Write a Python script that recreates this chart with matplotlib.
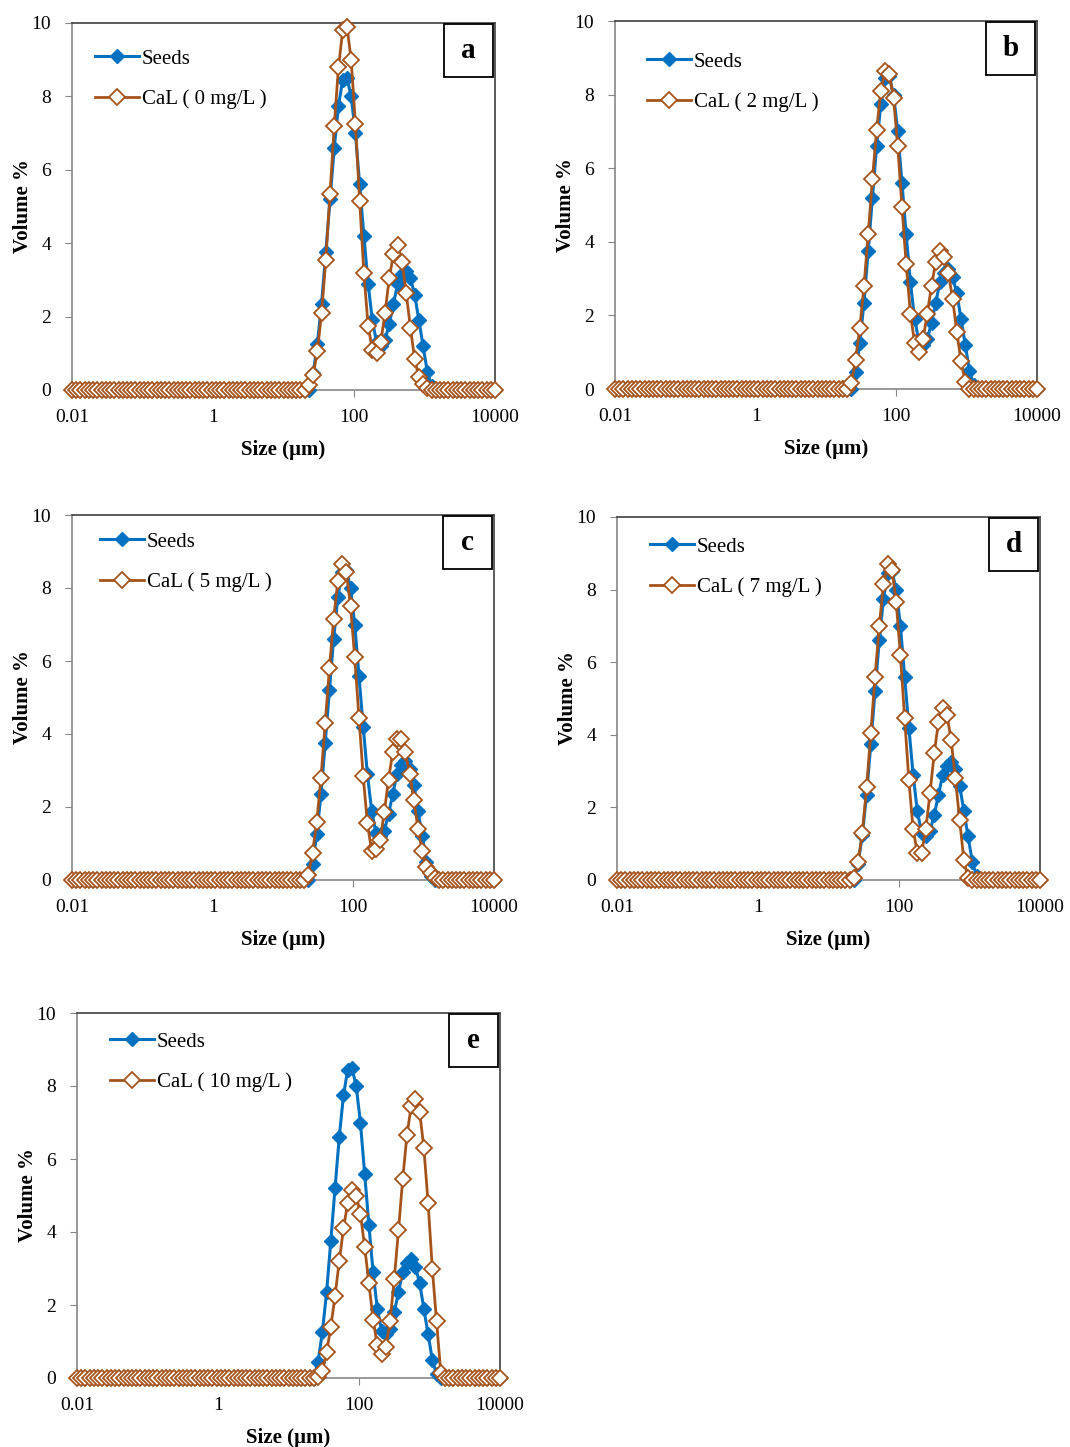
import matplotlib
matplotlib.use("Agg")
import matplotlib.pyplot as plt
from matplotlib.patches import Rectangle
import numpy as np

plt.rcParams["font.family"] = ["Liberation Serif", "DejaVu Serif"]

# Size classes of the analyser (101 log-spaced classes, 0.01 - 10000 um)
SIZES = np.logspace(-2, 4, 101)
TICKS = [0.01, 1, 100, 10000]
TICK_LABELS = ["0.01", "1", "100", "10000"]

# Non-zero part of every distribution: (first class index, values)
SEEDS_START = 57
SEEDS = [0.45, 1.25, 2.35, 3.75, 5.2, 6.6, 7.75, 8.45, 8.5, 8.0, 7.0, 5.6, 4.2, 2.9,
         1.9, 1.3, 1.2, 1.35, 1.8, 2.35, 2.9, 3.15, 3.25, 3.05, 2.6, 1.9, 1.2, 0.5, 0.1]

CAL_0_START = 56
CAL_0 = [0.13, 0.4, 1.05, 2.1, 3.55, 5.35, 7.2, 8.8, 9.8, 9.9, 9.0, 7.25, 5.15, 3.2,
         1.75, 1.1, 1.0, 1.3, 2.1, 3.05, 3.7, 3.95, 3.5, 2.65, 1.7, 0.85, 0.35, 0.15, 0.05]

CAL_2_START = 56
CAL_2 = [0.15, 0.8, 1.65, 2.8, 4.2, 5.7, 7.05, 8.1, 8.65, 8.55, 7.9, 6.6, 4.95, 3.4,
         2.05, 1.25, 1.0, 1.35, 2.05, 2.8, 3.45, 3.75, 3.6, 3.15, 2.45, 1.55, 0.75, 0.2]

CAL_5_START = 56
CAL_5 = [0.14, 0.75, 1.6, 2.8, 4.3, 5.8, 7.15, 8.2, 8.65, 8.45, 7.5, 6.1, 4.45, 2.85,
         1.55, 0.8, 0.85, 1.1, 1.85, 2.75, 3.5, 3.85, 3.85, 3.5, 2.9, 2.2, 1.4, 0.8,
         0.35, 0.2, 0.05]

CAL_7_START = 56
CAL_7 = [0.05, 0.5, 1.3, 2.55, 4.05, 5.6, 7.0, 8.15, 8.7, 8.55, 7.65, 6.2, 4.45, 2.75,
         1.4, 0.75, 0.75, 1.4, 2.4, 3.5, 4.35, 4.75, 4.55, 3.85, 2.8, 1.65, 0.55, 0.05]

CAL_10_START = 57
CAL_10 = [0.03, 0.2, 0.7, 1.4, 2.25, 3.2, 4.1, 4.8, 5.15, 5.0, 4.5, 3.6, 2.6, 1.6,
          0.9, 0.65, 0.85, 1.55, 2.7, 4.05, 5.45, 6.65, 7.45, 7.65, 7.3, 6.3, 4.8,
          3.0, 1.55, 0.15]

PANEL_LETTERS = ["a", "b", "c", "d", "e"]
CAL_LABELS = ["CaL ( 0 mg/L )", "CaL ( 2 mg/L )", "CaL ( 5 mg/L )",
              "CaL ( 7 mg/L )", "CaL ( 10 mg/L )"]
CAL_SERIES = [(CAL_0_START, CAL_0), (CAL_2_START, CAL_2), (CAL_5_START, CAL_5),
              (CAL_7_START, CAL_7), (CAL_10_START, CAL_10)]

BLUE = "#0070C0"
BROWN = "#A5521B"

W, H = 1070, 1447
# axes boxes in pixels: left, top, right, bottom
PANEL_BOXES = [
    (72, 23, 495, 390),
    (615, 21, 1037, 389),
    (72, 515, 494, 880),
    (617, 517, 1040, 880),
    (77, 1013, 500, 1378),
]
# legend handle start / first row centre, pixels from axes top-left
LEGEND_OFFSETS = [(23, 34), (32, 39), (28, 25), (33, 28), (33, 27)]


def full_distribution(start, values):
    out = np.zeros(len(SIZES))
    out[start:start + len(values)] = values
    return out


fig = plt.figure(figsize=(W / 100, H / 100), dpi=100)

for k, (l, t, r, b) in enumerate(PANEL_BOXES):
    ax = fig.add_axes([l / W, 1 - b / H, (r - l) / W, (b - t) / H])
    cal_start, cal_vals = CAL_SERIES[k]

    ax.plot(SIZES, full_distribution(SEEDS_START, SEEDS), color=BLUE, lw=2.2,
            marker="D", ms=7.2, mfc=BLUE, mec=BLUE, label="Seeds",
            clip_on=False, zorder=3)
    ax.plot(SIZES, full_distribution(cal_start, cal_vals), color=BROWN, lw=2.0,
            marker="D", ms=7.8, mfc="white", mec=BROWN, mew=1.3,
            label=CAL_LABELS[k], clip_on=False, zorder=4)

    ax.set_xscale("log")
    ax.set_xlim(0.01, 10000)
    ax.set_ylim(0, 10)
    ax.set_xticks(TICKS)
    ax.set_xticklabels(TICK_LABELS)
    ax.minorticks_off()
    ax.set_yticks(range(0, 11, 2))
    ax.tick_params(labelsize=14, length=5, color="#868686")
    ax.tick_params(axis="x", pad=9)
    ax.tick_params(axis="y", pad=10)

    for side in ("left", "bottom"):
        ax.spines[side].set_color("#868686")
        ax.spines[side].set_linewidth(1.2)
    for side in ("top", "right"):
        ax.spines[side].set_color("#404040")
        ax.spines[side].set_linewidth(1.2)

    ax.set_xlabel("Size (µm)", fontsize=15, fontweight="bold", labelpad=10)
    ax.set_ylabel("Volume %", fontsize=15, fontweight="bold", labelpad=-1)

    wpx, hpx = r - l, b - t
    dx, dy = LEGEND_OFFSETS[k]
    ax.legend(loc="upper left", bbox_to_anchor=(dx / wpx, 1 - (dy - 8) / hpx),
              frameon=False, fontsize=15, handlelength=2.1, handletextpad=0.15,
              labelspacing=1.0, borderpad=0, borderaxespad=0)

    bw, bh = 49 / wpx, 53 / hpx
    ax.add_patch(Rectangle((0.996 - bw, 0.997 - bh), bw, bh, transform=ax.transAxes,
                           fc="white", ec="black", lw=1.3, zorder=6, clip_on=False))
    ax.text(0.996 - bw / 2, 0.997 - bh / 2, PANEL_LETTERS[k], transform=ax.transAxes,
            ha="center", va="center", fontsize=21, fontweight="bold", zorder=7)

fig.savefig("out.png", dpi=100)
